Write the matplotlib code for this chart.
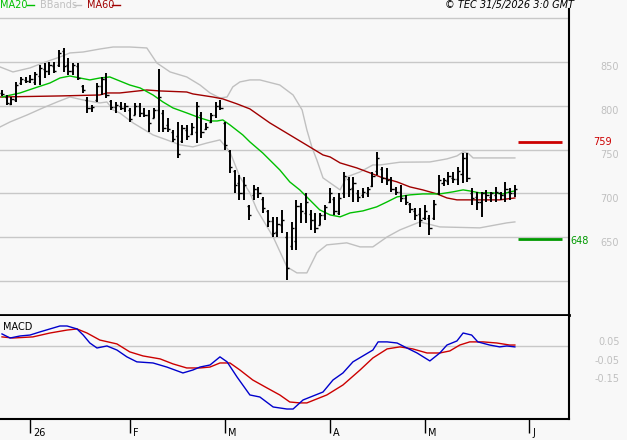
import numpy as np
import matplotlib
matplotlib.use("Agg")
import matplotlib.pyplot as plt
from matplotlib.lines import Line2D
from matplotlib.transforms import offset_copy, blended_transform_factory

# daily bars (price), one per trading day, oldest first
highs = [818, 812, 810, 827, 833, 833, 835, 839, 847, 849,
         850, 850, 864, 866, 855, 849, 849, 824, 810, 801,
         826, 833, 837, 807, 804, 804, 803, 797, 803, 803,
         797, 795, 797, 842, 795, 786, 772, 781, 778, 778,
         780, 804, 793, 780, 792, 804, 807, 781, 750, 727,
         721, 719, 687, 710, 707, 696, 681, 673, 673, 681,
         656, 667, 692, 689, 700, 681, 678, 678, 687, 706,
         696, 700, 724, 719, 719, 704, 706, 707, 724, 747,
         730, 729, 719, 707, 710, 698, 689, 683, 683, 687,
         675, 692, 721, 718, 724, 724, 730, 746, 746, 706,
         702, 702, 704, 702, 707, 702, 713, 706, 710]
lows = [811, 801, 801, 804, 824, 826, 826, 824, 824, 832,
        835, 837, 844, 839, 835, 835, 829, 815, 792, 793,
        804, 812, 809, 795, 792, 795, 793, 781, 789, 787,
        787, 770, 786, 770, 770, 770, 759, 740, 758, 761,
        767, 758, 763, 772, 780, 786, 795, 750, 723, 700,
        692, 692, 670, 692, 695, 678, 662, 650, 650, 655,
        601, 635, 635, 666, 666, 658, 655, 664, 670, 689,
        675, 675, 695, 696, 690, 690, 695, 696, 707, 721,
        712, 710, 702, 698, 690, 687, 678, 670, 662, 670,
        652, 670, 698, 708, 710, 712, 710, 712, 713, 687,
        681, 673, 690, 690, 690, 692, 690, 692, 696]
opens = [815, 810, 802, 806, 826, 829, 828, 827, 834, 842,
         840, 845, 847, 862, 846, 840, 845, 822, 806, 797,
         806, 822, 830, 805, 799, 800, 797, 795, 790, 800,
         792, 790, 786, 795, 792, 778, 770, 765, 760, 772,
         768, 770, 790, 774, 782, 790, 800, 780, 748, 725,
         712, 700, 685, 698, 705, 694, 680, 668, 656, 664,
         650, 640, 645, 685, 678, 676, 670, 664, 675, 690,
         694, 678, 700, 716, 706, 700, 698, 700, 708, 725,
         728, 718, 716, 705, 702, 695, 688, 680, 676, 672,
         672, 672, 700, 712, 714, 718, 716, 722, 740, 700,
         696, 690, 700, 696, 698, 700, 698, 702, 700]
closes = [813, 803, 808, 824, 830, 828, 830, 836, 843, 840,
          846, 840, 860, 845, 840, 846, 832, 818, 797, 799,
          823, 830, 812, 798, 801, 797, 800, 785, 800, 792,
          790, 780, 795, 810, 775, 773, 762, 745, 775, 765,
          776, 800, 770, 776, 790, 800, 797, 755, 730, 710,
          700, 710, 675, 705, 700, 683, 668, 655, 665, 670,
          615, 660, 685, 680, 690, 670, 660, 675, 684, 700,
          680, 695, 720, 705, 712, 696, 702, 705, 720, 740,
          718, 715, 705, 702, 695, 690, 682, 675, 670, 680,
          660, 688, 715, 715, 720, 716, 725, 740, 718, 695,
          690, 700, 698, 700, 702, 698, 705, 700, 705]

# indicator lines (bar position, value)
ma20_x = [0, 3.8, 6.9, 10.1, 12.2, 14.3, 16.4, 18.5, 20.6, 22.7, 24.8, 26.9, 29.1,
          31.8, 33.9, 36, 38.9, 41.7, 43.8, 45.3, 46.5, 48, 50.7, 52.2, 54.9, 58.5,
          60.6, 62.7, 64.8, 66.9, 69.1, 71.2, 73.3, 76, 78.9, 81.1, 83.2, 85.9, 88.6,
          92.2, 94.9, 97.1, 98.5, 100.6, 103.4, 105.5, 106.9, 108]
ma20_y = [810, 814.6, 820.3, 826, 831.7, 834, 831.7, 829.5, 831.7, 832.9, 828.3, 823.7, 820.3,
          812.3, 804.3, 797.5, 791.8, 786.1, 782.6, 782.6, 783.8, 778.1, 766.7, 758.7, 746.1, 726.7,
          713, 703.9, 692.5, 681.1, 675.3, 673.1, 677.6, 679.9, 684.5, 690.2, 695.9, 698.2, 699.3,
          699.3, 701.6, 703.9, 702.7, 700.5, 700.5, 699.3, 701.6, 702.7]

ma60_x = [-0.4, 12.2, 20.6, 22.1, 24.8, 30.5, 33.3, 38.9, 40.2, 44.4, 46.5, 49.5, 52.2,
          56.4, 60.6, 64.8, 67.6, 69.1, 71.2, 74.7, 77.5, 80.2, 83.2, 85.9, 88.6, 91.6,
          93.7, 95.8, 100.6, 104.8, 108]
ma60_y = [810, 811.2, 812.3, 814.6, 814.6, 818, 816.9, 815.7, 813.5, 810, 807.8, 802.1, 796.4,
          780.4, 766.7, 753, 743.8, 741.5, 734.7, 729, 723.3, 717.6, 713, 707.3, 703.9, 699.3,
          694.7, 692.5, 692.5, 692.5, 694.7]

bb_up_x = [-0.4, 2.3, 5.9, 8.6, 12.2, 14.3, 17.1, 20.6, 23.4, 26.9, 30.5, 32.6, 35.4,
           38.9, 41.7, 43.8, 45.9, 47.4, 48.6, 50.1, 52.2, 54.3, 58.5, 61.3, 63.2, 64.2,
           65.3, 66.3, 67.6, 69.7, 71.2, 72.6, 75.4, 78.1, 79.6, 83.8, 90.1, 93.7, 95.8,
           97.1, 98.1, 99.2, 102.7, 108]
bb_up_y = [844.3, 838.6, 843.2, 848.9, 855.7, 860.3, 861.4, 864.8, 867.1, 867.1, 866, 848.9, 838.6,
           832.9, 823.7, 814.6, 808.9, 810, 821.5, 827.2, 829.5, 829.5, 823.7, 812.3, 795.2, 772.4,
           752, 738.1, 717.6, 709.6, 703.9, 718.7, 724.4, 732.4, 732.4, 735.5, 735.8, 739.3, 742.7,
           747.3, 746.1, 740.4, 740.4, 740.4]

bb_lo_x = [-0.4, 1.7, 5.3, 8.6, 11.6, 14.3, 17.1, 20.6, 22.1, 23.4, 24.8, 27.6, 31.8,
           34.7, 37.5, 40.2, 43.2, 45.9, 48, 50.1, 52.2, 53.7, 57.1, 60, 62.1, 64.2,
           66.3, 68.4, 72.6, 75.4, 78.1, 81.1, 83.8, 88, 92.2, 100.6, 106.3, 108]
bb_lo_y = [775.8, 781.5, 789.5, 797.5, 804.3, 810, 806.6, 803.2, 804.3, 795.2, 791.8, 780.4, 766.7,
           761, 755.3, 753, 757.5, 761, 747.3, 718.7, 700.5, 681.1, 650.2, 616, 609.1, 609.1,
           632, 641.1, 643.4, 638.8, 638.8, 650.2, 658.2, 667.3, 661.6, 660.5, 666.2, 667.3]

macd_x = [0, 1.7, 3.8, 5.9, 8, 10.1, 12.2, 13.7, 15.8, 17.1, 18.5, 20, 22.1, 24.2, 26.3,
          28.4, 31.8, 34.7, 38.1, 40.2, 41.7, 43.8, 45.9, 47.4, 49.5, 52.2, 54.3, 57.1,
          60, 61.3, 63.4, 67.6, 69.7, 71.8, 73.9, 76, 78.1, 79.2, 81.1, 83.2, 84.8, 87.4,
          90.1, 92.2, 93.7, 95.8, 97.1, 98.9, 100.2, 102.7, 104.8, 106.3, 108]
macd_y = [0.065, 0.043, 0.054, 0.059, 0.076, 0.092, 0.108, 0.108, 0.092, 0.059, 0.016, -0.011,
          0.0, -0.022, -0.059, -0.086, -0.092, -0.114, -0.146, -0.130, -0.114, -0.103, -0.059,
          -0.086, -0.168, -0.265, -0.276, -0.330, -0.341, -0.341, -0.292, -0.249, -0.184,
          -0.146, -0.086, -0.054, -0.022, 0.022, 0.022, 0.016, -0.005, -0.038, -0.081, -0.038,
          0.005, 0.027, 0.070, 0.059, 0.022, 0.005, -0.005, 0.0, -0.005]

sig_x = [0, 2.3, 6.5, 10.1, 13.7, 15.8, 17.9, 20.6, 24.2, 26.9, 29.7, 33.3, 36, 38.9,
         41.7, 43.8, 45.9, 48, 50.1, 52.8, 55.8, 58.5, 60.6, 62.7, 64.2, 68.4, 71.8,
         75.4, 78.1, 81.1, 83.8, 86.5, 89.5, 92.2, 94.3, 96.4, 98.5, 101.3, 104.2, 106.9, 108]
sig_y = [0.049, 0.043, 0.049, 0.070, 0.086, 0.092, 0.070, 0.032, 0.011, -0.032, -0.054, -0.070,
         -0.097, -0.119, -0.119, -0.114, -0.092, -0.092, -0.130, -0.184, -0.227, -0.265, -0.303,
         -0.308, -0.308, -0.265, -0.211, -0.130, -0.065, -0.016, -0.005, -0.016, -0.038, -0.038,
         -0.027, 0.005, 0.022, 0.022, 0.016, 0.005, 0.005]

resistance = 759
support = 648
price_grid = [600, 650, 700, 750, 800, 850, 900]
price_labels = [650, 700, 750, 800, 850]
macd_ticks = [0.05, -0.05, -0.15]
month_pos = [6, 27, 47, 69, 89, 111]
month_lab = ["26", "F", "M", "A", "M", "J"]

bg = "#f8f8f8"
grid_c = "#c8c8c8"
lab_c = "#c0c0c0"
W, H = 627, 440

fig = plt.figure(figsize=(6.27, 4.40), dpi=100, facecolor=bg)

def fx(px):
    return px / W

def fy(py):
    return 1 - py / H

ax1 = fig.add_axes([0, fy(315), fx(569), (315 - 9) / H], facecolor=bg)
ax2 = fig.add_axes([0, fy(419), fx(569), (419 - 316) / H], facecolor=bg)

for ax in (ax1, ax2):
    ax.set_xlim(-0.42, 119.4)
    ax.spines["left"].set_visible(False)
    ax.spines["top"].set_visible(False)
    ax.spines["right"].set_linewidth(1.5)
    ax.set_yticks([])
ax1.spines["bottom"].set_linewidth(2)
ax2.spines["bottom"].set_linewidth(1.5)
ax1.set_xticks([])
ax1.set_ylim(561, 910.5)
ax2.set_ylim(-0.395, 0.162)

# price panel
for v in price_grid:
    ax1.axhline(v, color=grid_c, lw=1, zorder=0)

ax1.plot(bb_up_x, bb_up_y, color=lab_c, lw=1, zorder=1)
ax1.plot(bb_lo_x, bb_lo_y, color=lab_c, lw=1, zorder=1)
ax1.plot(ma60_x, ma60_y, color="#a00000", lw=1, zorder=2)
ax1.plot(ma20_x, ma20_y, color="#00c000", lw=1, zorder=2)

idx = np.arange(len(highs))
ax1.vlines(idx, lows, highs, color="black", lw=1.4, zorder=3)
ax1.hlines(opens, idx - 0.45, idx, color="black", lw=1, zorder=3)
ax1.hlines(closes, idx, idx + 0.45, color="black", lw=1, zorder=3)

ax1.hlines(resistance, 108.6, 117.9, color="#cc0000", lw=2)
ax1.hlines(support, 108.6, 117.9, color="#009900", lw=2)

tr1 = blended_transform_factory(ax1.transAxes, ax1.transData)
for v in price_labels:
    ax1.text(600 / 569, v, str(v), transform=offset_copy(tr1, fig, y=-5.5, units="dots"),
             ha="left", va="center", color=lab_c, fontsize=7)
ax1.text(593 / 569, resistance, str(resistance), transform=tr1,
         ha="left", va="center", color="#cc0000", fontsize=7)
ax1.text(570 / 569, support, str(support), transform=offset_copy(tr1, fig, y=-2, units="dots"),
         ha="left", va="center", color="#009900", fontsize=7)

# MACD panel
ax2.axhline(0, color=grid_c, lw=1, zorder=0)
ax2.plot(sig_x, sig_y, color="#cc0000", lw=1)
ax2.plot(macd_x, macd_y, color="#0000cc", lw=1)

tr2 = blended_transform_factory(ax2.transAxes, ax2.transData)
for v in macd_ticks:
    ax2.text(620 / 569, v, "%.2f" % v, transform=offset_copy(tr2, fig, y=-5.5, units="dots"),
             ha="right", va="center", color=lab_c, fontsize=7)
fig.text(fx(3), fy(327), "MACD", va="center", ha="left", fontsize=7)

ax2.set_xticks(month_pos)
ax2.set_xticklabels([])
ax2.tick_params(axis="x", direction="out", length=10, width=1, color="black")
trx = blended_transform_factory(ax2.transData, ax2.transAxes)
for p, lab in zip(month_pos, month_lab):
    ax2.text(p, 0, lab, transform=offset_copy(trx, fig, x=3, y=-9, units="dots"),
             ha="left", va="top", fontsize=7)

# header legend
fig.text(fx(0), fy(5), "MA20", color="#00c000", va="center", ha="left", fontsize=7)
fig.add_artist(Line2D([fx(27), fx(34)], [fy(5), fy(5)], color="#00c000", lw=1))
fig.text(fx(40), fy(5), "BBands", color=lab_c, va="center", ha="left", fontsize=7)
fig.add_artist(Line2D([fx(74), fx(81)], [fy(5), fy(5)], color=lab_c, lw=1))
fig.text(fx(87), fy(5), "MA60", color="#a00000", va="center", ha="left", fontsize=7)
fig.add_artist(Line2D([fx(112), fx(120)], [fy(5), fy(5)], color="#a00000", lw=1))
fig.text(fx(574), fy(5), "\u00a9 TEC 31/5/2026 3:0 GMT", ha="right", va="center",
         style="italic", fontsize=7)

fig.savefig("out.png", dpi=100, facecolor=bg)
